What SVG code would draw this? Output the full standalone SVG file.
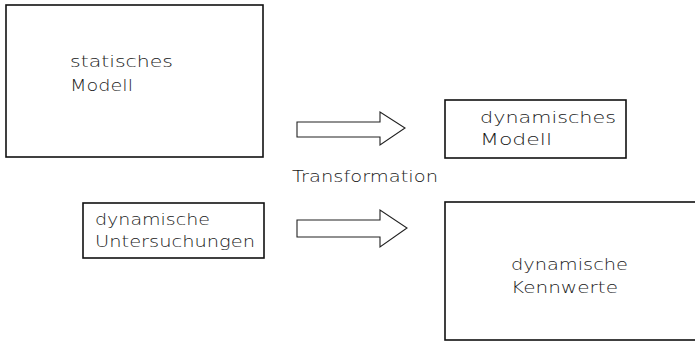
<svg xmlns="http://www.w3.org/2000/svg" width="695" height="342" viewBox="0 0 695 342">
<style>
.box{fill:none;stroke:#111;stroke-width:1.6}
.arr{fill:none;stroke:#222;stroke-width:1.1;stroke-linejoin:miter}
text{font-family:"DejaVu Sans","Liberation Sans",sans-serif;font-weight:200;font-size:16.5px;fill:#1a1a1a}
</style>
<rect width="695" height="342" fill="#fff"/>
<g id="statisches-modell">
<rect class="box" x="6" y="5" width="257" height="152"/>
<text x="70" y="67" textLength="103" lengthAdjust="spacingAndGlyphs">statisches</text>
<text x="70" y="91" textLength="63" lengthAdjust="spacingAndGlyphs">Modell</text>
</g>
<g id="dynamisches-modell">
<rect class="box" x="445" y="100" width="181" height="58"/>
<text x="480" y="123" textLength="136" lengthAdjust="spacingAndGlyphs">dynamisches</text>
<text x="480" y="145" textLength="72" lengthAdjust="spacingAndGlyphs">Modell</text>
</g>
<g id="dynamische-untersuchungen">
<rect class="box" x="83" y="203" width="181" height="55"/>
<text x="95" y="225" textLength="115" lengthAdjust="spacingAndGlyphs">dynamische</text>
<text x="95" y="247" textLength="160" lengthAdjust="spacingAndGlyphs">Untersuchungen</text>
</g>
<g id="dynamische-kennwerte">
<rect class="box" x="445" y="202" width="260" height="138"/>
<text x="511" y="270" textLength="117" lengthAdjust="spacingAndGlyphs">dynamische</text>
<text x="511" y="293" textLength="107" lengthAdjust="spacingAndGlyphs">Kennwerte</text>
</g>
<g id="connectors">
<path class="arr" d="M297,122 H380 V112 L405,128 L380,145 V137 H297 Z"/>
<path class="arr" d="M297,220 H380 V210 L407,228 L380,247 V237 H297 Z"/>
<text x="292" y="182" textLength="146" lengthAdjust="spacingAndGlyphs">Transformation</text>
</g>
</svg>
